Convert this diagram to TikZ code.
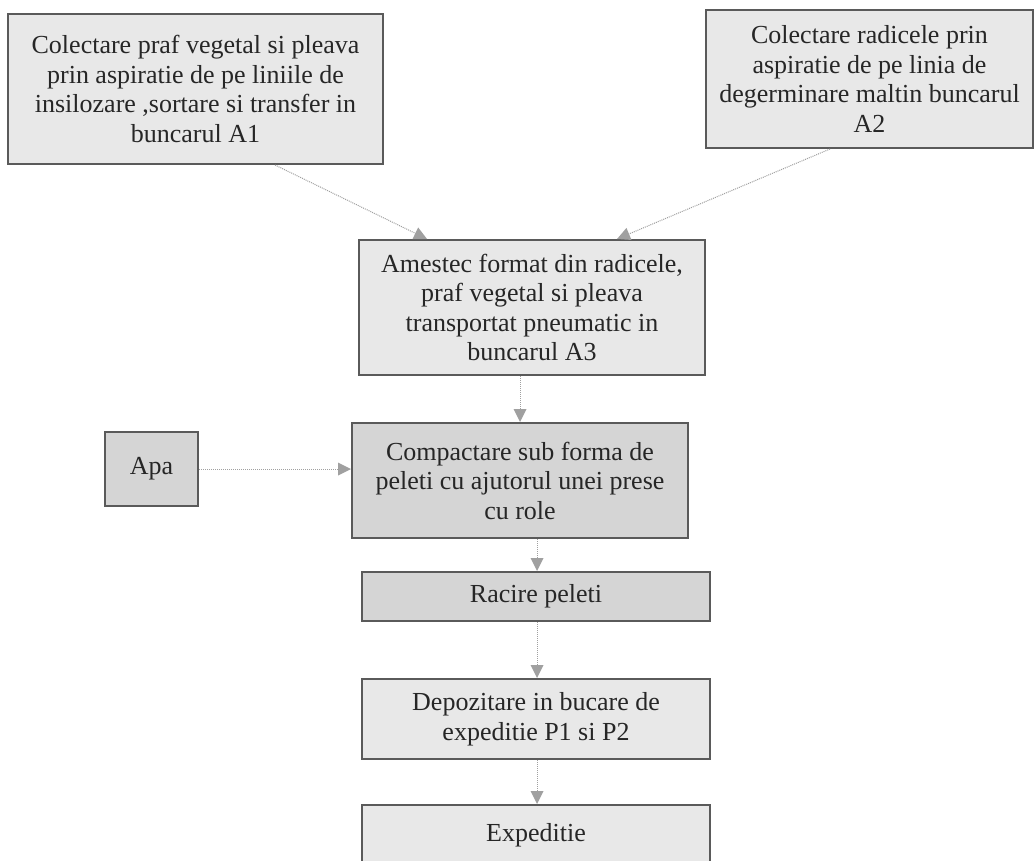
\documentclass[tikz,border=0pt]{standalone}
\usepackage{fontspec}
\setmainfont{Liberation Serif}
\usetikzlibrary{arrows.meta}
\definecolor{boxlight}{HTML}{E8E8E8}
\definecolor{boxdark}{HTML}{D5D5D5}
\definecolor{edgegray}{HTML}{5A5A5A}
\definecolor{arrowgray}{HTML}{A0A0A0}
\begin{document}
\begin{tikzpicture}[x=1pt,y=-1pt,
  lightbox/.style={draw=edgegray, line width=2pt, fill=boxlight, align=center,
    inner sep=0pt, font=\fontsize{26}{29.5}\selectfont, text=black!85},
  darkbox/.style={lightbox, fill=boxdark},
  arr/.style={draw=arrowgray, line width=1pt, densely dotted,
    -{Triangle[length=13pt,width=13pt,fill=arrowgray,line width=0pt]}}
]
\useasboundingbox[fill=white] (0,0) rectangle (1035,860);

\node[lightbox, minimum width=375pt, minimum height=150pt] (a1) at (195.5,89)
  {Colectare praf vegetal si pleava\\prin aspiratie de pe liniile de\\insilozare ,sortare si transfer in\\buncarul A1};
\node[lightbox, minimum width=327pt, minimum height=138pt] (a2) at (869.5,79)
  {Colectare radicele prin\\aspiratie de pe linia de\\degerminare maltin buncarul\\A2};
\node[lightbox, minimum width=346pt, minimum height=135pt] (a3) at (532,307.5)
  {Amestec format din radicele,\\praf vegetal si pleava\\transportat pneumatic in\\buncarul A3};
\node[darkbox, minimum width=93pt, minimum height=74pt] (apa) at (151.5,469) {Apa};
\node[darkbox, minimum width=336pt, minimum height=115pt] (comp) at (520,480.5)
  {Compactare sub forma de\\peleti cu ajutorul unei prese\\cu role};
\node[darkbox, minimum width=348pt, minimum height=49pt] (rac) at (536,596.5) {Racire peleti};
\node[lightbox, minimum width=348pt, minimum height=80pt] (dep) at (536,719)
  {Depozitare in bucare de\\expeditie P1 si P2};
\node[lightbox, minimum width=348pt, minimum height=60pt] (exp) at (536,835) {Expeditie};

\coordinate (x1) at (275,0);
\coordinate (x2) at (427,0);
\coordinate (x3) at (830,0);
\coordinate (x4) at (617,0);
\coordinate (x5) at (520,0);
\coordinate (x6) at (537,0);

\draw[arr] (x1 |- a1.south) -- (x2 |- a3.north);
\draw[arr] (x3 |- a2.south) -- (x4 |- a3.north);
\draw[arr] (x5 |- a3.south) -- (x5 |- comp.north);
\draw[arr] (apa.east) -- (apa.east -| comp.west);
\draw[arr] (x6 |- comp.south) -- (x6 |- rac.north);
\draw[arr] (x6 |- rac.south) -- (x6 |- dep.north);
\draw[arr] (x6 |- dep.south) -- (x6 |- exp.north);
\end{tikzpicture}
\end{document}
